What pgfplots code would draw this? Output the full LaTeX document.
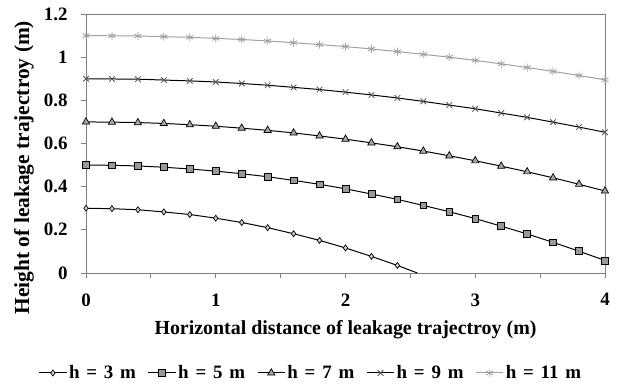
\documentclass[border=0pt]{standalone}
\usepackage{fontspec}
\setmainfont{Liberation Serif}
\usepackage{pgfplots}
\pgfplotsset{compat=1.18}
\definecolor{axgray}{HTML}{808080}
\definecolor{sqfill}{HTML}{999999}
\definecolor{trifill}{HTML}{A8A8A8}
\definecolor{difill}{HTML}{D0D0D0}
\definecolor{xmk}{HTML}{555555}
\definecolor{lgray}{HTML}{A0A0A0}
\newcommand\sps{\hspace{0.36em}}
\begin{document}
\begin{tikzpicture}
\useasboundingbox (-86bp,-113bp) rectangle (533bp,273bp);
\begin{axis}[
  at={(0,0)}, anchor=south west,
  scale only axis,
  width=519bp, height=259bp,
  xmin=0, xmax=4, ymin=0, ymax=1.2,
  xtick={0,0.5,...,4},
  xticklabels={0,,1,,2,,3,,4},
  ytick={0,0.2,...,1.2},
  tick align=outside,
  major tick length=5bp,
  xtick pos=bottom, ytick pos=left,
  axis line style={axgray, line width=0.9pt},
  tick style={axgray, line width=0.9pt},
  /pgf/number format/assume math mode=true,
  ticklabel style={font=\bfseries\fontsize{19}{21}\selectfont},
  xticklabel style={yshift=-12bp},
  yticklabel style={xshift=-10bp},
  xlabel={Horizontal distance of leakage trajectroy (m)},
  ylabel={Height of leakage trajectroy (m)},
  xlabel style={font=\bfseries\fontsize{20}{22}\selectfont, at={(axis description cs:0.5,-0.182)}, anchor=north, inner sep=0pt},
  ylabel style={font=\bfseries\fontsize{21.5}{23}\selectfont, at={(axis description cs:-0.1195,0.407)}, anchor=center, inner sep=0pt},
  legend columns=5,
  legend style={draw=none, fill=none, font=\bfseries\fontsize{19}{21}\selectfont,
    at={(axis description cs:0.4335,-0.386)}, anchor=center,
    /tikz/every even column/.append style={column sep=10bp},
    inner sep=0pt},
  legend image code/.code={\draw[#1, mark indices={2}] plot coordinates {(0cm,0cm)(0.48cm,0cm)(0.96cm,0cm)};},
  clip=false,
]
\addplot[black, line width=1pt, mark=diamond*, mark size=3bp, mark options={fill=difill, draw=black, line width=0.7pt},
  mark indices={1,2,3,4,5,6,7,8,9,10,11,12,13}] coordinates {
(0,0.300)(0.2,0.298)(0.4,0.293)(0.6,0.283)(0.8,0.271)(1.0,0.254)(1.2,0.234)(1.4,0.210)(1.6,0.182)(1.8,0.151)(2.0,0.116)(2.2,0.077)(2.4,0.035)(2.554,0)
};
\addlegendentry{h\sps=\sps3\sps m}
\addplot[black, line width=1pt, mark=square*, mark size=3.4bp, mark options={fill=sqfill, draw=black, line width=0.7pt}] coordinates {
(0,0.500)(0.2,0.499)(0.4,0.496)(0.6,0.490)(0.8,0.482)(1.0,0.472)(1.2,0.460)(1.4,0.446)(1.6,0.429)(1.8,0.411)(2.0,0.390)(2.2,0.366)(2.4,0.341)(2.6,0.313)(2.8,0.284)(3.0,0.252)(3.2,0.217)(3.4,0.181)(3.6,0.142)(3.8,0.101)(4.0,0.058)
};
\addlegendentry{h\sps=\sps5\sps m}
\addplot[black, line width=1pt, mark=triangle*, mark size=4.2bp, mark options={fill=trifill, draw=black, line width=0.7pt}] coordinates {
(0,0.700)(0.2,0.699)(0.4,0.697)(0.6,0.693)(0.8,0.687)(1.0,0.680)(1.2,0.671)(1.4,0.661)(1.6,0.649)(1.8,0.635)(2.0,0.620)(2.2,0.603)(2.4,0.585)(2.6,0.565)(2.8,0.543)(3.0,0.520)(3.2,0.495)(3.4,0.469)(3.6,0.441)(3.8,0.411)(4.0,0.380)
};
\addlegendentry{h\sps=\sps7\sps m}
\addplot[black, line width=1pt, mark=x, mark size=4bp, mark options={draw=xmk, line width=0.8pt}] coordinates {
(0,0.900)(0.2,0.899)(0.4,0.898)(0.6,0.894)(0.8,0.890)(1.0,0.885)(1.2,0.878)(1.4,0.870)(1.6,0.860)(1.8,0.850)(2.0,0.838)(2.2,0.825)(2.4,0.811)(2.6,0.795)(2.8,0.778)(3.0,0.761)(3.2,0.741)(3.4,0.721)(3.6,0.699)(3.8,0.676)(4.0,0.652)
};
\addlegendentry{h\sps=\sps9\sps m}
\addplot[lgray, line width=1pt, mark=asterisk, mark size=4bp, mark options={draw=lgray, line width=0.8pt}] coordinates {
(0,1.100)(0.2,1.099)(0.4,1.098)(0.6,1.095)(0.8,1.092)(1.0,1.087)(1.2,1.082)(1.4,1.075)(1.6,1.067)(1.8,1.058)(2.0,1.049)(2.2,1.038)(2.4,1.026)(2.6,1.013)(2.8,1.000)(3.0,0.985)(3.2,0.969)(3.4,0.952)(3.6,0.934)(3.8,0.915)(4.0,0.895)
};
\addlegendentry{h\sps=\sps11\sps m}
\end{axis}
\end{tikzpicture}
\end{document}
